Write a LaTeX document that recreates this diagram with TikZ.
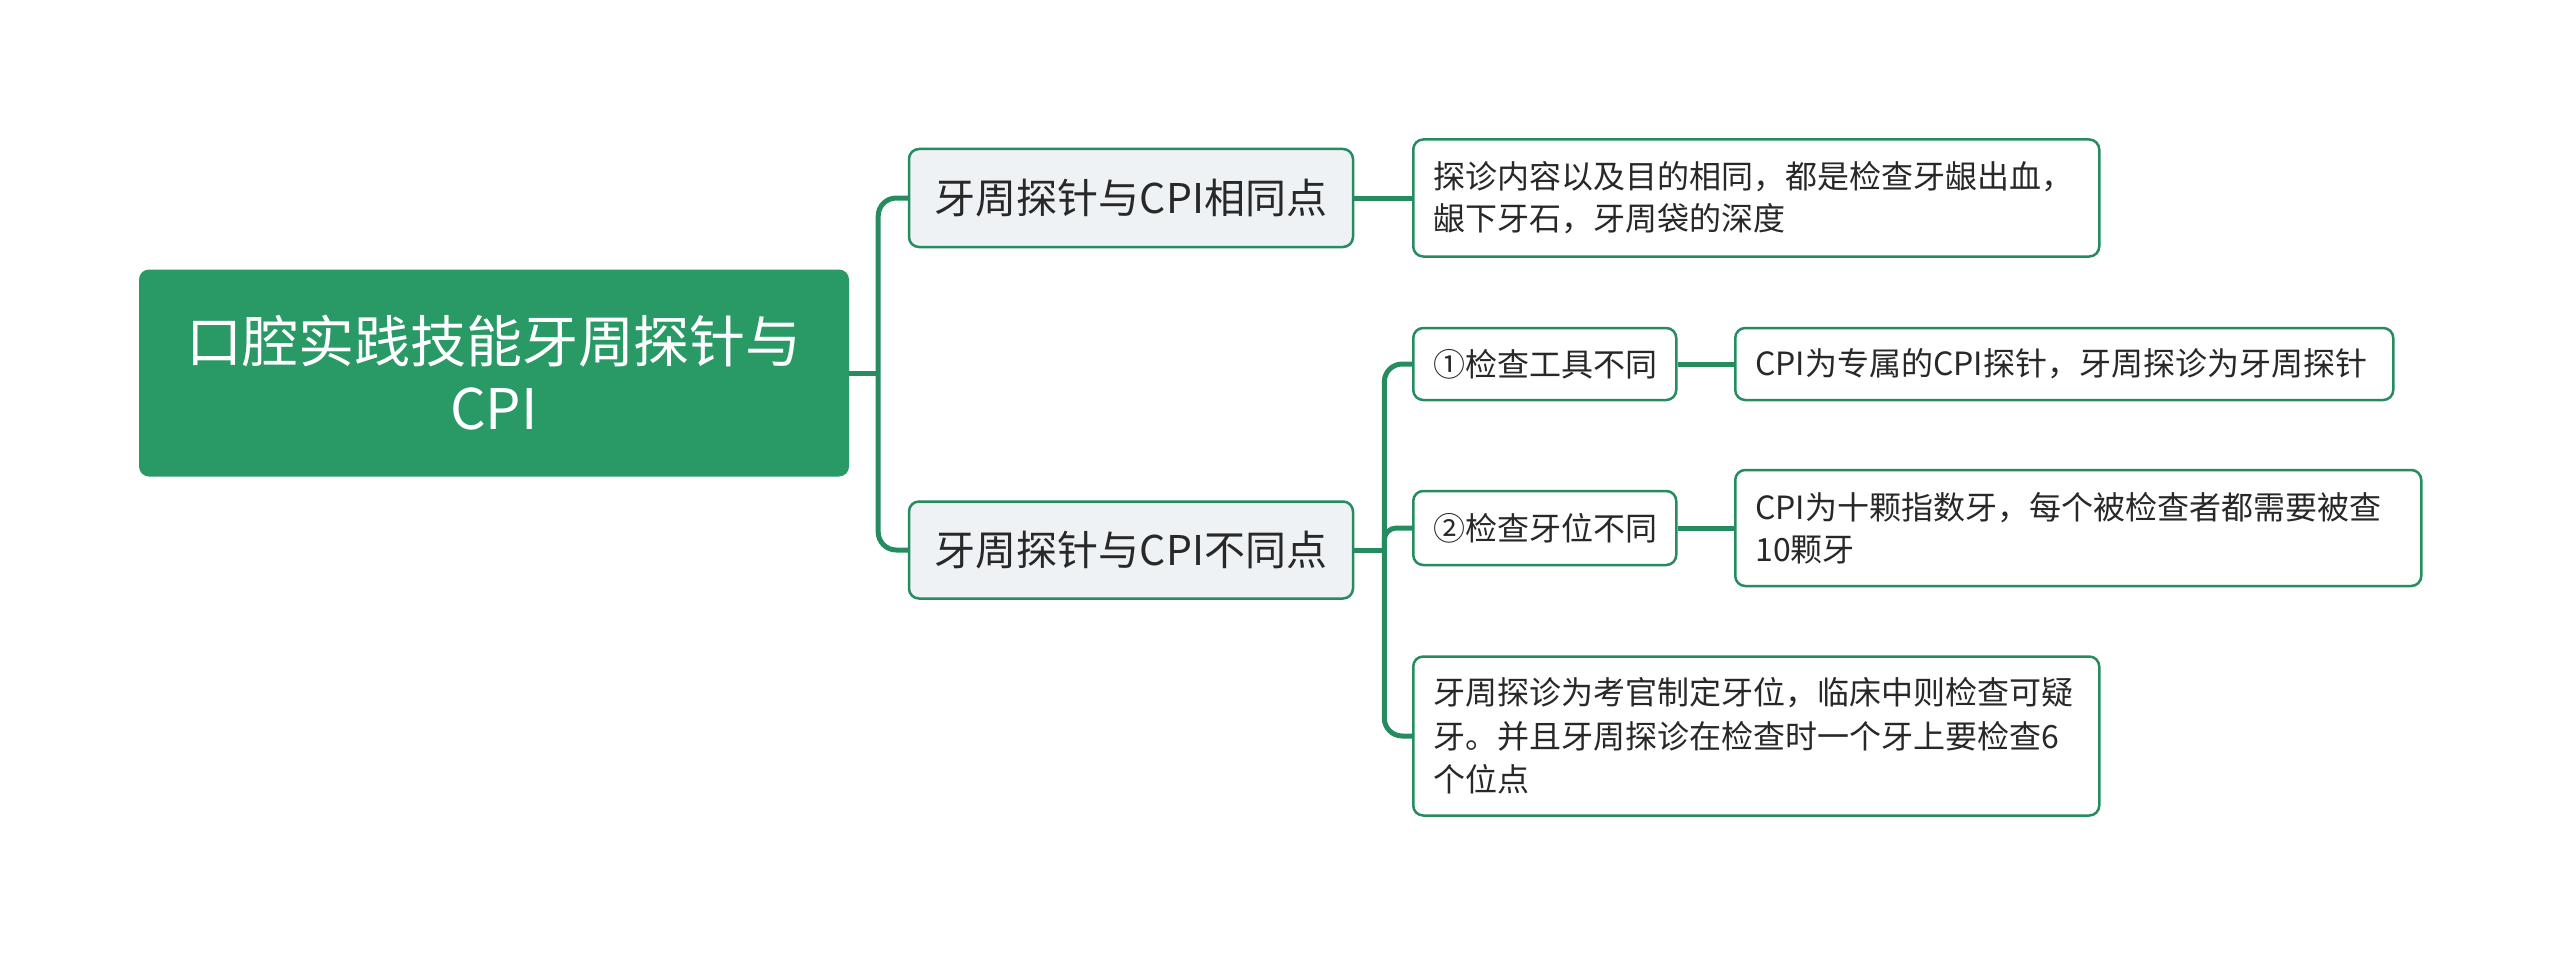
\documentclass[tikz,border=0pt]{standalone}
\usepackage{fontspec}
\setmainfont{Noto Sans CJK SC}
\usepackage{tikz}
\usetikzlibrary{positioning,calc,backgrounds}

\definecolor{rootgreen}{RGB}{41,153,102}
\definecolor{linegreen}{RGB}{38,140,95}
\definecolor{midfill}{RGB}{238,242,245}
\definecolor{txtgray}{RGB}{40,40,40}

\tikzset{
  rootbox/.style={fill=rootgreen, rounded corners=10pt, text=white, align=center,
    inner xsep=0pt, inner ysep=0pt, font=\fontsize{56}{67}\selectfont},
  midbox/.style={fill=midfill, draw=linegreen, line width=2.5pt, rounded corners=10pt,
    text=txtgray, align=center, inner xsep=0pt, inner ysep=0pt,
    font=\fontsize{41}{50}\selectfont},
  leafbox/.style={fill=white, draw=linegreen, line width=2.5pt, rounded corners=10pt,
    text=txtgray, align=left, inner xsep=20pt, inner ysep=0pt, anchor=west,
    font=\fontsize{32}{42}\selectfont},
  conn/.style={draw=linegreen, line width=5pt},
}

\begin{document}
\begin{tikzpicture}[x=1pt,y=-1pt]
  \useasboundingbox (0,0) rectangle (2560,955);

  \node[rootbox, text width=710pt, minimum height=207pt] (root) at (494,373)
    {口腔实践技能牙周探针与\\CPI};

  \node[midbox, text width=444pt, minimum height=98pt] (same) at (1131,198) {牙周探针与CPI相同点};
  \node[midbox, text width=444pt, minimum height=97pt] (diff) at (1131,550) {牙周探针与CPI不同点};

  \node[leafbox, text width=646pt, minimum height=117pt] (sameleaf) at (1412,198)
    {探诊内容以及目的相同，都是检查牙龈出血，\\龈下牙石，牙周袋的深度};

  \node[leafbox, text width=223pt, minimum height=72pt] (tool) at (1412,364) {①检查工具不同};
  \node[leafbox, text width=223pt, minimum height=74pt] (pos) at (1412,528) {②检查牙位不同};
  \node[leafbox, text width=646pt, minimum height=159pt, font=\fontsize{32}{43.5}\selectfont] (exam) at (1412,736)
    {牙周探诊为考官制定牙位，临床中则检查可疑\\牙。并且牙周探诊在检查时一个牙上要检查6\\个位点};

  \node[leafbox, text width=618pt, minimum height=72pt] (toolleaf) at (1734,364)
    {CPI为专属的CPI探针，牙周探诊为牙周探针};
  \node[leafbox, text width=646pt, minimum height=116pt] (posleaf) at (1734,528)
    {CPI为十颗指数牙，每个被检查者都需要被查\\10颗牙};

  % connectors, behind the boxes
  \begin{scope}[on background layer]
    \coordinate (jroot) at ([xshift=29pt]root.east);
    \coordinate (jdiff) at ([xshift=30pt]diff.east);
    \draw[conn] (root.east) -- (jroot);
    \draw[conn, rounded corners=18pt] (jroot) |- (same.west);
    \draw[conn, rounded corners=18pt] (jroot) |- (diff.west);
    \draw[conn] (same.east) -- (sameleaf.west);

    \draw[conn] (diff.east) -- (jdiff);
    \draw[conn, rounded corners=18pt] (jdiff) |- (tool.west);
    \draw[conn, rounded corners=12pt] (jdiff) |- (pos.west);
    \draw[conn, rounded corners=18pt] (jdiff) |- (exam.west);
    \draw[conn] (tool.east) -- (toolleaf.west);
    \draw[conn] (pos.east) -- (posleaf.west);
  \end{scope}
\end{tikzpicture}
\end{document}
